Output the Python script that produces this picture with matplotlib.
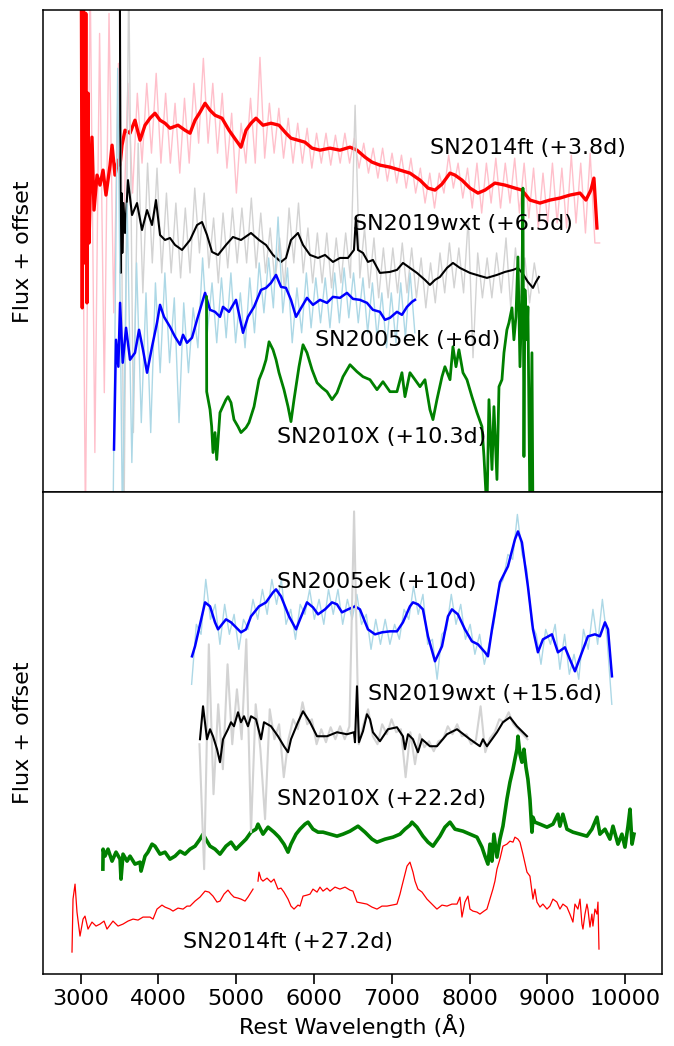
import matplotlib
matplotlib.use("Agg")
import matplotlib.pyplot as plt
import numpy as np

# ---- early epoch (top panel) ----
# SN2014ft (+3.8d): raw spectrum on a regular grid + smoothed version
ft_early_raw_range = (3000, 9673)
ft_early_raw = [
    5.5, -0.3, 5.2, 0.4, 4.6, 1.0, 4.8, 1.8, 4.3, 2.5,
    4.1, 3.0, 4.0, 3.3, 4.1, 3.4, 4.2, 3.3, 4.0, 3.3,
    3.9, 3.2, 3.95, 3.3, 4.1, 3.5, 4.35, 3.5, 4.1, 3.4,
    4.0, 3.25, 3.8, 3.0, 3.7, 3.3, 3.95, 3.3, 4.36, 3.35,
    3.9, 3.4, 3.85, 3.35, 3.75, 3.3, 3.7, 3.3, 3.65, 3.25,
    3.6, 3.3, 3.6, 3.28, 3.58, 3.3, 3.6, 3.3, 3.55, 3.25,
    3.5, 3.2, 3.45, 3.15, 3.45, 3.12, 3.4, 3.1, 3.38, 3.05,
    3.35, 3.0, 3.25, 2.9, 3.2, 2.85, 3.2, 3.0, 3.38, 3.05,
    3.3, 2.95, 3.25, 2.85, 3.3, 2.8, 3.3, 2.9, 3.35, 2.85,
    3.3, 2.9, 3.35, 2.8, 3.3, 2.75, 3.25, 2.65, 3.2, 2.7,
    3.3, 2.7, 3.25, 2.65, 3.38, 2.7, 3.3, 2.6, 3.4, 2.5,
    2.5,
]
ft_early_wave = [
    3005, 3020, 3035, 3050, 3065, 3080, 3095, 3107, 3120, 3145,
    3171, 3210, 3248, 3287, 3325, 3377, 3403, 3441, 3480, 3506,
    3531, 3570, 3634, 3698, 3763, 3827, 3891, 3955, 4020, 4084,
    4148, 4251, 4341, 4406, 4470, 4534, 4599, 4663, 4727, 4817,
    4907, 4997, 5061, 5126, 5190, 5254, 5344, 5447, 5550, 5640,
    5704, 5794, 5884, 5975, 6077, 6206, 6334, 6463, 6553, 6656,
    6746, 6848, 6977, 7106, 7234, 7363, 7466, 7556, 7646, 7749,
    7813, 7903, 8006, 8109, 8199, 8327, 8456, 8584, 8674, 8777,
    8906, 9034, 9163, 9291, 9421, 9497, 9561, 9600, 9639,
]
ft_early_flux = [
    6.0, 1.85, 5.5, 2.3, 4.8, 1.9, 4.0, 2.5, 2.96, 3.56,
    2.83, 3.18, 3.08, 3.23, 2.98, 3.28, 3.48, 3.18, 3.33, 3.28,
    3.48, 3.63, 3.60, 3.73, 3.53, 3.68, 3.75, 3.80, 3.73, 3.70,
    3.65, 3.68, 3.63, 3.60, 3.73, 3.81, 3.90, 3.83, 3.78, 3.75,
    3.63, 3.53, 3.46, 3.63, 3.70, 3.75, 3.68, 3.70, 3.68, 3.60,
    3.55, 3.53, 3.51, 3.45, 3.43, 3.45, 3.43, 3.46, 3.43, 3.36,
    3.31, 3.28, 3.26, 3.23, 3.20, 3.13, 3.05, 3.03, 3.09, 3.20,
    3.18, 3.13, 3.05, 3.00, 3.03, 3.10, 3.08, 3.05, 3.03, 2.93,
    2.90, 2.93, 2.95, 2.98, 3.00, 2.93, 3.03, 3.15, 2.65,
]

# SN2019wxt (+6.5d)
wxt_early_raw_range = (3496, 8894)
wxt_early_raw = [
    5.5, -0.3, 5.2, 0.6, 3.5, 2.0, 3.3, 2.3, 3.25, 2.2,
    3.0, 2.2, 2.9, 2.15, 2.85, 2.2, 3.05, 2.4, 3.0, 2.25,
    2.75, 2.1, 2.8, 2.25, 2.85, 2.3, 2.85, 2.3, 2.95, 2.25,
    2.8, 2.2, 2.65, 2.1, 2.55, 2.05, 2.85, 2.3, 2.9, 2.2,
    2.65, 2.1, 2.6, 2.1, 2.6, 2.05, 2.55, 2.1, 2.6, 2.15,
    3.88, 2.15, 2.65, 2.05, 2.55, 1.95, 2.45, 1.95, 2.45, 2.0,
    2.5, 2.0, 2.45, 1.95, 2.35, 1.85, 2.3, 1.9, 2.4, 2.0,
    2.5, 2.05, 2.45, 2.0, 2.75, 1.35, 2.4, 1.95, 2.35, 1.95,
    2.4, 2.0, 2.55, 1.85, 2.45, 1.95, 2.35, 1.9, 2.3, 2.0,
]
wxt_early_wave = [
    3500, 3508, 3515, 3525, 3535, 3550, 3570, 3608, 3660, 3724,
    3788, 3853, 3917, 3968, 4020, 4084, 4148, 4213, 4303, 4406,
    4496, 4560, 4624, 4689, 4766, 4868, 4958, 5061, 5190, 5293,
    5383, 5473, 5576, 5640, 5704, 5794, 5859, 5949, 6052, 6142,
    6244, 6334, 6437, 6514, 6540, 6566, 6630, 6694, 6758, 6848,
    6977, 7067, 7144, 7234, 7324, 7427, 7491, 7556, 7620, 7710,
    7787, 7877, 8006, 8134, 8224, 8353, 8456, 8559, 8623, 8687,
    8751, 8816, 8854, 8893,
]
wxt_early_flux = [
    6.0, 3.9, 2.2, 3.0, 2.4, 2.9, 2.6, 3.13, 2.78, 2.90,
    2.63, 2.83, 2.68, 2.93, 2.58, 2.53, 2.55, 2.48, 2.43, 2.53,
    2.68, 2.71, 2.58, 2.41, 2.38, 2.48, 2.56, 2.53, 2.60, 2.53,
    2.48, 2.38, 2.31, 2.35, 2.53, 2.60, 2.48, 2.38, 2.35, 2.38,
    2.31, 2.35, 2.35, 2.43, 2.76, 2.43, 2.40, 2.31, 2.33, 2.20,
    2.21, 2.23, 2.30, 2.25, 2.20, 2.13, 2.08, 2.13, 2.16, 2.25,
    2.30, 2.25, 2.20, 2.17, 2.15, 2.18, 2.21, 2.23, 2.25, 2.19,
    2.11, 2.05, 2.11, 2.16,
]

# SN2005ek (+6d)
ek_early_raw_range = (3415, 7297)
ek_early_raw = [
    -0.3, 4.25, -0.3, 2.9, 0.3, 2.3, 0.7, 2.0, 0.6, 2.1,
    1.2, 2.2, 1.3, 1.95, 0.7, 1.9, 1.2, 1.85, 1.45, 2.35,
    1.6, 2.1, 1.5, 2.15, 1.55, 2.2, 1.5, 2.0, 1.45, 2.15,
    1.6, 2.3, 1.8, 2.35, 1.85, 2.76, 1.8, 2.25, 1.5, 2.05,
    1.6, 2.2, 1.65, 2.15, 1.7, 2.15, 1.65, 2.2, 1.7, 2.25,
    1.75, 2.2, 1.7, 2.15, 1.6, 2.1, 1.55, 2.0, 1.45, 2.0,
    1.5, 2.1, 1.55, 2.2, 1.6,
]
ek_early_wave = [
    3428, 3454, 3484, 3506, 3540, 3583, 3634, 3698, 3750, 3801,
    3853, 3917, 3981, 4020, 4071, 4148, 4213, 4277, 4316, 4367,
    4431, 4496, 4560, 4599, 4663, 4727, 4791, 4830, 4907, 4997,
    5087, 5151, 5229, 5319, 5383, 5447, 5512, 5576, 5640, 5704,
    5769, 5820, 5910, 5987, 6077, 6167, 6244, 6334, 6424, 6501,
    6591, 6681, 6758, 6848, 6913, 6977, 7067, 7131, 7196, 7260,
    7299,
]
ek_early_flux = [
    0.43, 1.53, 1.26, 1.90, 1.30, 1.65, 1.33, 1.40, 1.63, 1.43,
    1.20, 1.46, 1.70, 1.88, 1.76, 1.66, 1.56, 1.48, 1.58, 1.50,
    1.55, 1.73, 1.90, 2.00, 1.83, 1.81, 1.76, 1.86, 1.81, 1.93,
    1.60, 1.76, 1.86, 2.03, 2.05, 2.10, 2.18, 2.06, 2.05, 1.93,
    1.76, 1.83, 1.95, 1.88, 1.93, 1.90, 1.96, 1.95, 2.00, 1.94,
    1.93, 1.90, 1.83, 1.81, 1.73, 1.75, 1.81, 1.78, 1.86, 1.91,
    1.93,
]

# SN2010X (+10.3d)
x_early_wave = [
    4618, 4620, 4663, 4684, 4701, 4727, 4749, 4791, 4826, 4868,
    4894, 4933, 4971, 5023, 5061, 5126, 5164, 5229, 5293, 5344,
    5383, 5422, 5473, 5512, 5550, 5614, 5666, 5704, 5743, 5807,
    5859, 5910, 5975, 6039, 6103, 6167, 6232, 6296, 6373, 6463,
    6553, 6630, 6720, 6810, 6887, 6977, 7067, 7131, 7170, 7234,
    7299, 7363, 7427, 7491, 7530, 7581, 7646, 7684, 7749, 7787,
    7826, 7864, 7916, 7967, 8031, 8096, 8160, 8186, 8224, 8250,
    8289, 8314, 8353, 8379, 8417, 8443, 8481, 8507, 8546, 8571,
    8597, 8623, 8649, 8674, 8687, 8700, 8713, 8739, 8751, 8777,
    8803, 8816,
]
x_early_flux = [
    1.96, 1.01, 0.83, 0.66, 0.40, 0.60, 0.33, 0.80, 0.86, 0.93,
    0.96, 0.90, 0.73, 0.66, 0.60, 0.65, 0.70, 0.86, 1.13, 1.23,
    1.33, 1.51, 1.43, 1.33, 1.20, 1.03, 0.86, 0.71, 0.93, 1.26,
    1.48, 1.40, 1.23, 1.10, 1.05, 1.01, 0.93, 1.00, 1.16, 1.28,
    1.21, 1.16, 1.13, 1.03, 1.11, 1.01, 1.01, 1.20, 0.96, 1.20,
    1.13, 1.06, 1.13, 0.83, 0.73, 0.93, 1.16, 1.26, 1.13, 1.46,
    1.26, 1.43, 1.20, 1.13, 0.96, 0.80, 0.66, 0.36, -0.20, 0.93,
    0.23, 0.86, 0.13, 1.06, 1.13, 1.40, 1.63, 1.70, 1.85, 1.53,
    1.76, 2.36, 1.26, 2.00, 3.05, 0.36, 2.03, 1.53, 1.86, -0.20,
    1.40, -0.30,
]

# ---- late epoch (bottom panel) ----
# SN2005ek (+10d)
ek_late_raw_range = (4426, 9830)
ek_late_raw = [
    2.9, 3.5, 3.4, 3.95, 3.55, 3.7, 3.3, 3.7, 3.4, 3.6,
    3.25, 3.55, 3.45, 3.75, 3.55, 3.85, 3.6, 3.95, 3.7, 3.95,
    3.5, 3.65, 3.35, 3.7, 3.6, 3.85, 3.55, 3.75, 3.5, 3.85,
    3.6, 3.85, 3.5, 3.75, 3.55, 3.8, 3.5, 3.6, 3.25, 3.55,
    3.3, 3.55, 3.3, 3.5, 3.35, 3.65, 3.55, 3.88, 3.6, 3.8,
    3.3, 3.35, 2.95, 3.4, 3.45, 3.8, 3.5, 3.7, 3.35, 3.5,
    3.2, 3.4, 3.1, 3.3, 3.5, 3.85, 3.95, 4.2, 4.15, 4.6,
    4.2, 4.05, 3.5, 3.4, 3.1, 3.45, 3.3, 3.5, 3.05, 3.4,
    3.0, 3.2, 2.95, 3.45, 3.25, 3.65, 3.3, 3.75, 3.35, 2.7,
]
ek_late_wave = [
    4431, 4470, 4599, 4663, 4727, 4766, 4817, 4868, 4933, 4997,
    5061, 5126, 5190, 5293, 5383, 5473, 5512, 5576, 5679, 5769,
    5820, 5910, 5987, 6052, 6142, 6232, 6296, 6360, 6437, 6527,
    6591, 6694, 6785, 6874, 6977, 7067, 7144, 7234, 7273, 7337,
    7401, 7466, 7556, 7646, 7723, 7774, 7851, 7941, 8031, 8109,
    8199, 8237, 8289, 8391, 8494, 8584, 8623, 8674, 8751, 8816,
    8880, 8944, 9060, 9137, 9227, 9291, 9356, 9446, 9523, 9613,
    9677, 9742, 9781, 9832,
]
ek_late_flux = [
    3.18, 3.28, 3.72, 3.68, 3.52, 3.45, 3.50, 3.55, 3.52, 3.47,
    3.42, 3.45, 3.58, 3.68, 3.72, 3.82, 3.85, 3.78, 3.58, 3.45,
    3.55, 3.72, 3.67, 3.60, 3.65, 3.72, 3.70, 3.62, 3.65, 3.68,
    3.65, 3.45, 3.40, 3.42, 3.43, 3.43, 3.52, 3.68, 3.72, 3.70,
    3.65, 3.38, 3.13, 3.28, 3.58, 3.65, 3.60, 3.45, 3.33, 3.30,
    3.22, 3.18, 3.45, 3.92, 4.08, 4.35, 4.43, 4.32, 3.88, 3.45,
    3.22, 3.35, 3.40, 3.22, 3.27, 3.15, 3.03, 3.22, 3.38, 3.40,
    3.38, 3.52, 3.45, 2.98,
]

# SN2019wxt (+15.6d)
wxt_late_raw_range = (4527, 8745)
wxt_late_raw = [
    2.3, 1.05, 3.3, 1.8, 2.7, 2.05, 3.1, 2.3, 2.85, 2.35,
    3.35, 1.42, 2.7, 2.25, 1.55, 2.65, 2.35, 2.5, 1.97, 2.35,
    2.55, 2.45, 2.72, 2.5, 2.55, 2.3, 2.45, 2.32, 2.47, 2.35,
    2.48, 2.35, 2.48, 4.63, 2.3, 2.5, 2.65, 2.38, 2.3, 2.5,
    2.4, 2.55, 2.42, 2.45, 1.97, 2.42, 2.1, 2.4, 2.27, 2.33,
    2.23, 2.33, 2.35, 2.48, 2.4, 2.5, 2.38, 2.4, 2.3, 2.34,
    2.68, 2.22, 2.36, 2.42, 2.55, 2.52, 2.62, 2.5, 2.45, 2.4,
    2.35,
]
wxt_late_wave = [
    4534, 4573, 4624, 4663, 4701, 4753, 4791, 4830, 4894, 4933,
    4971, 5023, 5061, 5100, 5151, 5190, 5254, 5319, 5357, 5447,
    5537, 5614, 5666, 5704, 5794, 5859, 5949, 6039, 6167, 6296,
    6424, 6514, 6527, 6553, 6578, 6630, 6681, 6720, 6758, 6848,
    6951, 7067, 7144, 7170, 7209, 7273, 7337, 7389, 7491, 7581,
    7710, 7839, 8006, 8134, 8173, 8224, 8353, 8430, 8520, 8610,
    8739,
]
wxt_late_flux = [
    2.35, 2.68, 2.35, 2.45, 2.38, 2.25, 2.12, 2.35, 2.45, 2.52,
    2.48, 2.62, 2.52, 2.58, 2.48, 2.58, 2.55, 2.35, 2.52, 2.48,
    2.38, 2.28, 2.22, 2.35, 2.52, 2.63, 2.52, 2.38, 2.38, 2.42,
    2.40, 2.42, 2.32, 2.88, 2.32, 2.43, 2.60, 2.55, 2.42, 2.33,
    2.45, 2.47, 2.38, 2.25, 2.40, 2.35, 2.22, 2.35, 2.28, 2.28,
    2.40, 2.45, 2.35, 2.28, 2.35, 2.28, 2.42, 2.52, 2.57, 2.48,
    2.38,
]

# SN2010X (+22.2d)
x_late_wave = [
    3285, 3288, 3312, 3351, 3403, 3454, 3506, 3518, 3544, 3596,
    3634, 3698, 3763, 3776, 3827, 3865, 3917, 3955, 4020, 4084,
    4148, 4213, 4277, 4341, 4406, 4470, 4534, 4573, 4624, 4663,
    4727, 4791, 4868, 4933, 4997, 5061, 5126, 5190, 5254, 5280,
    5344, 5409, 5486, 5550, 5614, 5666, 5704, 5769, 5820, 5884,
    5923, 5987, 6052, 6116, 6206, 6296, 6373, 6463, 6566, 6656,
    6746, 6810, 6913, 7016, 7106, 7170, 7234, 7260, 7324, 7401,
    7466, 7530, 7620, 7684, 7749, 7813, 7916, 8006, 8096, 8160,
    8199, 8237, 8263, 8289, 8314, 8353, 8391, 8430, 8481, 8520,
    8559, 8584, 8610, 8623, 8649, 8674, 8700, 8726, 8751, 8777,
    8803, 8816, 8841, 8906, 8996, 9073, 9137, 9163, 9201, 9253,
    9330, 9421, 9510, 9574, 9639, 9677, 9742, 9806, 9845, 9909,
    9960, 9999, 10038, 10064, 10090, 10115,
]
x_late_flux = [
    1.05, 1.25, 1.18, 1.25, 1.13, 1.22, 1.15, 0.95, 1.20, 1.13,
    1.18, 1.10, 1.12, 1.03, 1.18, 1.22, 1.30, 1.28, 1.20, 1.22,
    1.15, 1.18, 1.23, 1.20, 1.25, 1.28, 1.35, 1.40, 1.33, 1.28,
    1.25, 1.20, 1.28, 1.32, 1.25, 1.30, 1.35, 1.42, 1.45, 1.50,
    1.40, 1.47, 1.42, 1.37, 1.30, 1.22, 1.30, 1.40, 1.45, 1.50,
    1.52, 1.45, 1.42, 1.42, 1.40, 1.38, 1.40, 1.43, 1.48, 1.42,
    1.35, 1.32, 1.35, 1.37, 1.40, 1.45, 1.49, 1.52, 1.47, 1.38,
    1.32, 1.28, 1.38, 1.47, 1.52, 1.45, 1.43, 1.40, 1.37, 1.27,
    1.18, 1.10, 1.30, 1.13, 1.40, 1.17, 1.35, 1.48, 1.75, 1.92,
    2.05, 2.15, 2.25, 2.38, 2.20, 2.12, 2.25, 2.07, 1.95, 1.75,
    1.42, 1.57, 1.52, 1.50, 1.47, 1.50, 1.60, 1.48, 1.60, 1.45,
    1.42, 1.40, 1.38, 1.45, 1.57, 1.40, 1.45, 1.35, 1.48, 1.30,
    1.40, 1.27, 1.48, 1.65, 1.30, 1.40,
]

# SN2014ft (+27.2d), nan marks the gap in the data
ft_late_wave = [
    2888, 2901, 2927, 2952, 2991, 3030, 3055, 3094, 3145, 3197,
    3248, 3300, 3338, 3415, 3480, 3544, 3608, 3673, 3737, 3801,
    3891, 3930, 3981, 4045, 4084, 4148, 4187, 4251, 4316, 4367,
    4406, 4470, 4534, 4599, 4650, 4701, 4753, 4791, 4843, 4894,
    4933, 4971, 5023, 5061, 5113, 5151, 5216, 5240, 5280, 5293,
    5319, 5344, 5396, 5447, 5486, 5537, 5576, 5614, 5666, 5704,
    5743, 5794, 5820, 5859, 5910, 5949, 5987, 6039, 6077, 6116,
    6167, 6206, 6270, 6334, 6399, 6463, 6501, 6553, 6617, 6681,
    6746, 6810, 6874, 6939, 7003, 7067, 7106, 7131, 7170, 7196,
    7234, 7273, 7299, 7337, 7389, 7453, 7517, 7581, 7646, 7710,
    7774, 7839, 7877, 7903, 7941, 7980, 8006, 8044, 8096, 8134,
    8186, 8224, 8263, 8301, 8327, 8353, 8391, 8430, 8481, 8520,
    8559, 8584, 8623, 8649, 8687, 8739, 8777, 8816, 8841, 8867,
    8906, 8944, 8996, 9034, 9073, 9124, 9163, 9201, 9253, 9291,
    9330, 9356, 9394, 9421, 9446, 9459, 9485, 9510, 9523, 9549,
    9574, 9587, 9613, 9639, 9652, 9665,
]
ft_late_flux = [
    0.22, 0.75, 0.90, 0.62, 0.38, 0.55, 0.58, 0.45, 0.52, 0.48,
    0.50, 0.53, 0.45, 0.53, 0.48, 0.50, 0.53, 0.55, 0.54, 0.57,
    0.57, 0.55, 0.65, 0.69, 0.67, 0.65, 0.63, 0.66, 0.65, 0.68,
    0.68, 0.73, 0.77, 0.83, 0.82, 0.78, 0.72, 0.73, 0.80, 0.84,
    0.80, 0.77, 0.76, 0.75, 0.73, 0.77, 0.85, np.nan, 0.93, 1.02,
    0.95, 0.93, 0.96, 0.92, 0.95, 0.85, 0.86, 0.82, 0.75, 0.68,
    0.65, 0.69, 0.68, 0.78, 0.79, 0.80, 0.85, 0.82, 0.87, 0.83,
    0.86, 0.83, 0.87, 0.85, 0.87, 0.84, 0.83, 0.72, 0.71, 0.70,
    0.67, 0.65, 0.68, 0.68, 0.69, 0.70, 0.80, 0.88, 1.00, 1.08,
    1.12, 1.02, 0.93, 0.85, 0.82, 0.75, 0.70, 0.65, 0.69, 0.68,
    0.70, 0.70, 0.77, 0.57, 0.72, 0.78, 0.65, 0.63, 0.62, 0.60,
    0.63, 0.65, 0.75, 0.85, 0.93, 1.05, 1.15, 1.28, 1.30, 1.33,
    1.32, 1.37, 1.35, 1.32, 1.20, 1.02, 0.98, 0.75, 0.85, 0.72,
    0.67, 0.70, 0.65, 0.68, 0.75, 0.72, 0.65, 0.70, 0.67, 0.60,
    0.52, 0.70, 0.65, 0.75, 0.50, 0.45, 0.60, 0.70, 0.65, 0.47,
    0.60, 0.48, 0.65, 0.60, 0.72, 0.25,
]

early_labels = [
    ("SN2014ft (+3.8d)", 7491, 3.45),
    ("SN2019wxt (+6.5d)", 6501, 2.69),
    ("SN2005ek (+6d)", 6013, 1.53),
    ("SN2010X (+10.3d)", 5525, 0.56),
]
late_labels = [
    ("SN2005ek (+10d)", 5525, 3.92),
    ("SN2019wxt (+15.6d)", 6694, 2.80),
    ("SN2010X (+22.2d)", 5525, 1.75),
    ("SN2014ft (+27.2d)", 4316, 0.32),
]


def grid(rng, values):
    return np.linspace(rng[0], rng[1], len(values))


fig = plt.figure(figsize=(6.74, 10.46), dpi=100)
ax1 = fig.add_axes([0.0638, 0.5292, 0.918, 0.4608])
ax2 = fig.add_axes([0.0638, 0.0688, 0.918, 0.4604])

# top panel
ax1.plot(grid(ft_early_raw_range, ft_early_raw), ft_early_raw, color="pink", lw=1)
ax1.plot(ft_early_wave, ft_early_flux, color="red", lw=2.4)
ax1.plot(grid(wxt_early_raw_range, wxt_early_raw), wxt_early_raw, color="lightgrey", lw=1)
ax1.plot(wxt_early_wave, wxt_early_flux, color="black", lw=1.5)
ax1.plot(grid(ek_early_raw_range, ek_early_raw), ek_early_raw, color="lightblue", lw=1)
ax1.plot(ek_early_wave, ek_early_flux, color="blue", lw=1.8)
ax1.plot(x_early_wave, x_early_flux, color="green", lw=2)
for txt, xw, yf in early_labels:
    ax1.text(xw, yf, txt, fontsize=16, ha="left", va="center")

# bottom panel
ax2.plot(grid(ek_late_raw_range, ek_late_raw), ek_late_raw, color="lightblue", lw=1)
ax2.plot(ek_late_wave, ek_late_flux, color="blue", lw=1.8)
ax2.plot(x_late_wave, x_late_flux, color="green", lw=2.6)
ax2.plot(grid(wxt_late_raw_range, wxt_late_raw), wxt_late_raw, color="lightgrey", lw=1.5)
ax2.plot(wxt_late_wave, wxt_late_flux, color="black", lw=1.5)
ax2.plot(ft_late_wave, ft_late_flux, color="red", lw=0.9)
for txt, xw, yf in late_labels:
    ax2.text(xw, yf, txt, fontsize=16, ha="left", va="center")

for ax, top in ((ax1, 4.83), (ax2, 4.82)):
    ax.set_xlim(2515, 10472)
    ax.set_ylim(0, top)
    ax.set_yticks([])
    ax.set_ylabel("Flux + offset", fontsize=16, labelpad=7)
    for s in ax.spines.values():
        s.set_linewidth(1.1)

ax1.tick_params(axis="x", bottom=False, labelbottom=False)
ax2.set_xticks(range(3000, 10001, 1000))
ax2.tick_params(axis="x", labelsize=16, length=7, width=1.2)
ax2.set_xlabel("Rest Wavelength (Å)", fontsize=16)

plt.savefig("out.png", dpi=100)
plt.close()
